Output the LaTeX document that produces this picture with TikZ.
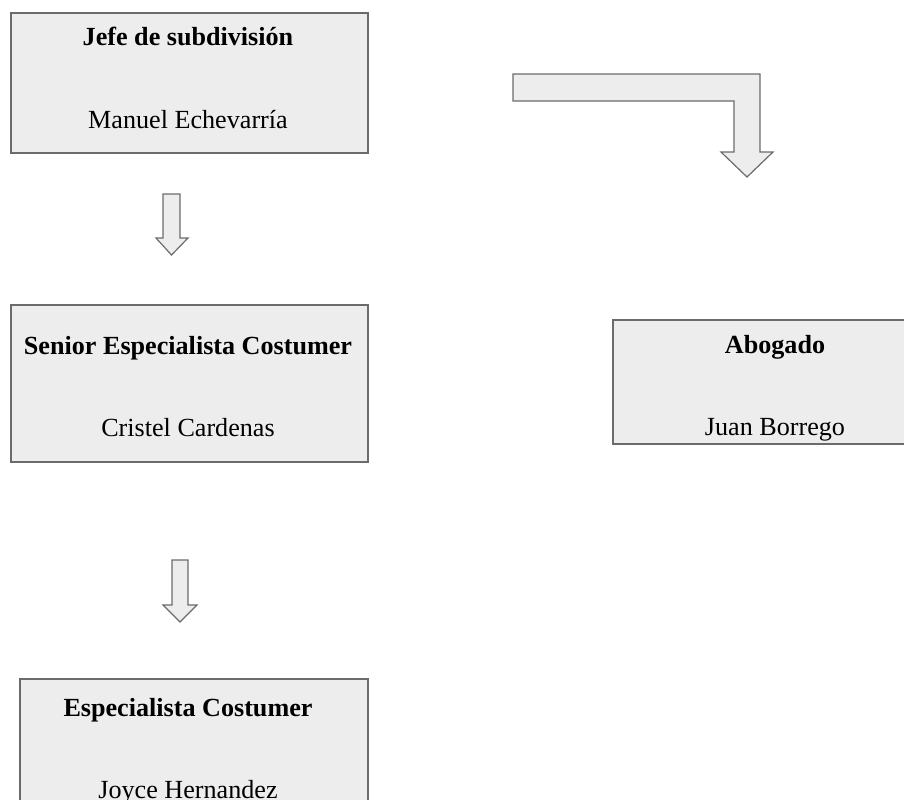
\documentclass[tikz,border=0pt]{standalone}
\usepackage{fontspec}
\setmainfont{Liberation Serif}
\begin{document}
\begin{tikzpicture}[x=0.75pt,y=-0.75pt,
  boxframe/.style={draw=black!58,fill=black!7,line width=1.1pt},
  blockarrow/.style={draw=black!58,fill=black!7,line width=0.9pt,line join=miter},
  title/.style={font=\fontsize{19.6}{23}\selectfont\bfseries,anchor=base,inner sep=0pt},
  person/.style={font=\fontsize{19.6}{23}\selectfont,anchor=base,inner sep=0pt}]
\useasboundingbox (0,0) rectangle (904,800);
% boxes
\draw[boxframe] (11,13) rectangle (368,153);
\draw[boxframe] (11,305) rectangle (368,462);
\draw[boxframe] (20,679) rectangle (368,820);
\draw[boxframe] (613,320) rectangle (920,444);
% texts
\node[title] (t1) at (188,45.5) {Jefe de subdivisión};
\node[person] (n1) at (188,128) {Manuel Echevarría};
\node[title] (t2) at (188,354) {Senior Especialista Costumer};
\node[person] (n2) at (188,436) {Cristel Cardenas};
\node[title] (t3) at (188,716) {Especialista Costumer};
\node[person] (n3) at (188,798) {Joyce Hernandez};
\node[title] (t4) at (775,353) {Abogado};
\node[person] (n4) at (775,435) {Juan Borrego};
% block arrows
\draw[blockarrow] (163,194) -- (180,194) -- (180,238) -- (188,238) -- (171.5,255) -- (156,238) -- (163,238) -- cycle;
\draw[blockarrow] (172,560) -- (188,560) -- (188,605) -- (197,605) -- (180,622) -- (163,605) -- (172,605) -- cycle;
\draw[blockarrow] (513,74) -- (760,74) -- (760,152) -- (773,152) -- (747,177) -- (721,152) -- (734,152) -- (734,101) -- (513,101) -- cycle;
\end{tikzpicture}
\end{document}
